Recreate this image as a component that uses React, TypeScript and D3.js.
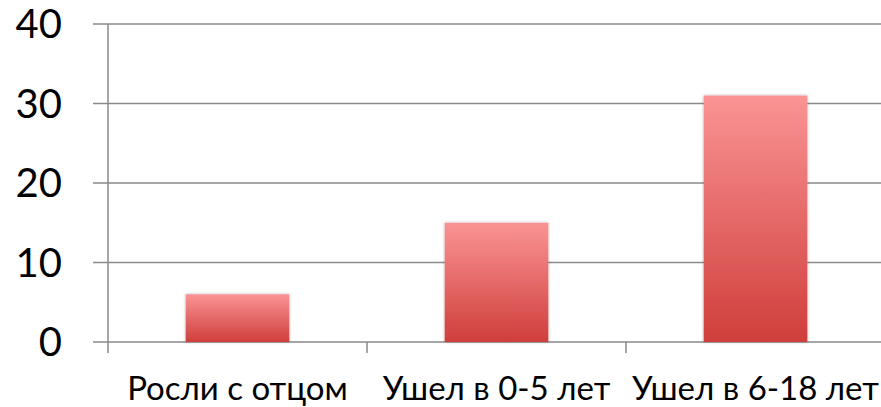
import React, { useEffect, useRef } from 'react';
import * as d3 from 'd3';

const categories = ['Росли с отцом', 'Ушел в 0-5 лет', 'Ушел в 6-18 лет'];
const values = [6, 15, 31];
const yTicks = [0, 10, 20, 30, 40];

const App: React.FC = () => {
  const svgRef = useRef<SVGSVGElement>(null);

  useEffect(() => {
    if (!svgRef.current) return;
    const svg = d3.select(svgRef.current);
    svg.selectAll('*').remove();

    const width = 881;
    const left = 108;
    const right = 885;
    const top = 24;
    const bottom = 342;
    const font = 'Lato, "Open Sans", sans-serif';

    const x = d3.scaleBand<string>()
      .domain(categories)
      .range([left, right])
      .paddingInner(0.6)
      .paddingOuter(0.3);

    const y = d3.scaleLinear().domain([0, 40]).range([bottom, top]);

    const defs = svg.append('defs');
    const grad = defs.append('linearGradient')
      .attr('id', 'barGrad')
      .attr('x1', 0).attr('y1', 0).attr('x2', 0).attr('y2', 1);
    grad.append('stop').attr('offset', '0%').attr('stop-color', '#fa9494');
    grad.append('stop').attr('offset', '100%').attr('stop-color', '#cf3e3b');

    const filter = defs.append('filter').attr('id', 'shadow')
      .attr('x', '-10%').attr('y', '-10%').attr('width', '120%').attr('height', '120%');
    filter.append('feDropShadow')
      .attr('dx', 0).attr('dy', 0).attr('stdDeviation', 1.5)
      .attr('flood-color', '#000').attr('flood-opacity', 0.3);

    // gridlines
    svg.append('g')
      .selectAll('line')
      .data(yTicks)
      .enter()
      .append('line')
      .attr('x1', left - 15)
      .attr('x2', width)
      .attr('y1', d => y(d))
      .attr('y2', d => y(d))
      .attr('stroke', '#8a8a8a')
      .attr('stroke-width', 1.5);

    // y axis line
    svg.append('line')
      .attr('x1', left).attr('x2', left)
      .attr('y1', top).attr('y2', bottom + 11)
      .attr('stroke', '#8a8a8a')
      .attr('stroke-width', 1.5);

    // x category boundary ticks
    svg.append('g')
      .selectAll('line')
      .data(categories.slice(1))
      .enter()
      .append('line')
      .attr('x1', d => x(d)! - x.step() * x.paddingInner() / 2)
      .attr('x2', d => x(d)! - x.step() * x.paddingInner() / 2)
      .attr('y1', bottom)
      .attr('y2', bottom + 11)
      .attr('stroke', '#8a8a8a')
      .attr('stroke-width', 1.5);

    // y labels
    svg.append('g')
      .selectAll('text')
      .data(yTicks)
      .enter()
      .append('text')
      .attr('x', 62)
      .attr('y', d => y(d) + 14)
      .attr('text-anchor', 'end')
      .style('font-family', font)
      .style('font-size', '40px')
      .attr('fill', '#000')
      .text(d => d);

    // bars
    svg.append('g')
      .selectAll('rect')
      .data(values)
      .enter()
      .append('rect')
      .attr('x', (d, i) => x(categories[i])!)
      .attr('y', d => y(d))
      .attr('width', x.bandwidth())
      .attr('height', d => bottom - y(d))
      .attr('fill', 'url(#barGrad)')
      .attr('filter', 'url(#shadow)');

    // category labels
    svg.append('g')
      .selectAll('text')
      .data(categories)
      .enter()
      .append('text')
      .attr('x', d => x(d)! + x.bandwidth() / 2)
      .attr('y', 400)
      .attr('text-anchor', 'middle')
      .style('font-family', font)
      .style('font-size', '33px')
      .attr('fill', '#000')
      .text(d => d);
  }, []);

  return (
    <svg
      ref={svgRef}
      width={881}
      height={407}
      style={{ position: 'absolute', left: 0, top: 0, background: '#fff' }}
    />
  );
};

export default App;
